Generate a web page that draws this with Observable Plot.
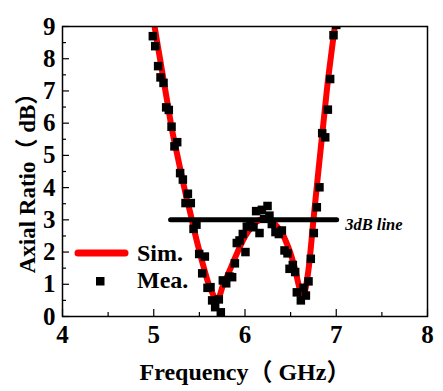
<!DOCTYPE html>
<html>
<head>
<meta charset="utf-8">
<script src="https://cdn.jsdelivr.net/npm/d3@7"></script>
<script src="https://cdn.jsdelivr.net/npm/@observablehq/plot@0.6"></script>
<style>
  html, body { margin: 0; padding: 0; background: #fff; }
  #chart { width: 443px; height: 391px; }
</style>
</head>
<body>
<div id="chart"></div>
<script>
// Simulated axial ratio curve
const freqSim = [4.97,5.00,5.05,5.10,5.15,5.20,5.25,5.30,5.35,5.40,5.45,5.50,5.55,5.60,5.65,5.685,5.72,5.75,5.80,5.85,5.90,5.95,6.00,6.05,6.10,6.15,6.20,6.25,6.30,6.35,6.40,6.45,6.50,6.55,6.60,6.625,6.65,6.70,6.75,6.80,6.85,6.90,6.95,7.00,7.03];
const arSim = [9.65,9.15,8.31,7.47,6.63,5.80,5.12,4.45,3.80,3.22,2.60,2.03,1.50,1.02,0.68,0.48,0.62,0.90,1.22,1.55,1.88,2.20,2.48,2.70,2.88,2.98,3.03,3.03,2.95,2.80,2.62,2.32,1.95,1.45,0.85,0.62,0.72,1.55,3.00,4.40,5.75,7.10,8.25,9.35,10.0];

// Measured axial ratio points
const freqMea = [4.990,5.016,5.048,5.074,5.107,5.136,5.165,5.195,5.227,5.257,5.289,5.319,5.348,5.374,5.406,5.436,5.468,5.498,5.531,5.560,5.589,5.622,5.640,5.673,5.713,5.735,5.757,5.794,5.830,5.859,5.889,5.910,5.940,5.976,6.005,6.020,6.057,6.093,6.122,6.159,6.185,6.210,6.247,6.268,6.294,6.334,6.371,6.404,6.433,6.466,6.488,6.524,6.550,6.568,6.612,6.641,6.667,6.696,6.721,6.754,6.787,6.816,6.846,6.879,6.908,6.933,6.970,7.000];
const arMea = [8.70,8.39,7.77,7.42,7.25,6.49,6.41,5.89,5.28,5.41,4.45,4.25,3.52,3.81,3.52,2.72,2.85,1.94,1.34,1.86,0.89,0.91,0.50,0.29,0.53,0.13,1.12,1.03,1.24,1.22,1.65,2.28,2.36,2.56,2.00,2.79,2.85,2.77,3.27,2.59,3.31,3.03,3.43,3.13,2.87,2.62,2.56,2.67,2.05,1.96,1.48,1.60,1.38,0.75,0.50,0.89,0.65,1.09,1.79,2.59,3.39,4.01,5.69,5.56,6.42,7.37,8.73,9.05];

// 3 dB reference line
const refLevel = [3];
const refRange = [5.19, 7.01];
const refLabel = "3dB line";

// Axes
const xTicks = [4,5,6,7,8];
const xMinor = [4.5,5.5,6.5,7.5];
const yTicks = [0,1,2,3,4,5,6,7,8,9];
const yMinor = [0.5,1.5,2.5,3.5,4.5,5.5,6.5,7.5,8.5];
const xTitle = "Frequency（ GHz）";
const yTitle = "Axial Ratio（ dB）";
const legendLabels = ["Sim.", "Mea."];

const sim = freqSim.map((f, i) => ({f, v: arSim[i]}));
const mea = freqMea.map((f, i) => ({f, v: arMea[i]}));

const W = 443, H = 391;
const mL = 62, mR = 16, mT = 26, mB = 75;
const pw = W - mL - mR, ph = H - mT - mB;
const FONT = "'Times New Roman', 'Liberation Serif', 'Noto Sans CJK SC', serif";

const plot = Plot.plot({
  width: W, height: H,
  marginLeft: mL, marginRight: mR, marginTop: mT, marginBottom: mB,
  style: {fontFamily: FONT, background: "#fff", color: "#000"},
  x: {domain: [4, 8]},
  y: {domain: [0, 9]},
  marks: [
    Plot.line(sim, {x: "f", y: "v", stroke: "#ff0000", strokeWidth: 6, curve: "monotone-x", clip: true}),
    Plot.dot(mea, {x: "f", y: "v", symbol: "square", r: 4.8, fill: "#000", stroke: "none", clip: true}),
    Plot.ruleY(refLevel, {y: d => d, x1: refRange[0], x2: refRange[1], stroke: "#000", strokeWidth: 5, strokeLinecap: "round"}),
    Plot.text(refLevel, {y: d => d, x: refRange[1], text: () => refLabel, textAnchor: "start", dx: 8, dy: 5, fontSize: 16.5, fontStyle: "italic", fontWeight: "bold", fill: "#000"}),
    // inward ticks
    Plot.tickX(xTicks, {x: d => d, insetTop: ph - 7, stroke: "#000", strokeWidth: 1.2}),
    Plot.tickX(xMinor, {x: d => d, insetTop: ph - 4, stroke: "#000", strokeWidth: 1.2}),
    Plot.tickY(yTicks, {y: d => d, insetRight: pw - 7, stroke: "#000", strokeWidth: 1.2}),
    Plot.tickY(yMinor, {y: d => d, insetRight: pw - 4, stroke: "#000", strokeWidth: 1.2}),
    Plot.axisX({ticks: xTicks, tickFormat: d3.format("d"), tickSize: 0, tickPadding: 9, fontSize: 25, fontWeight: "bold", label: null}),
    Plot.axisY({ticks: yTicks, tickFormat: d3.format("d"), tickSize: 0, tickPadding: 7, fontSize: 25, fontWeight: "bold", label: null}),
    Plot.text([xTitle], {frameAnchor: "bottom", textAnchor: "middle", lineAnchor: "middle", dy: 56, fontSize: 24, fontWeight: "bold", fill: "#000"}),
    Plot.text([yTitle], {frameAnchor: "left", textAnchor: "middle", lineAnchor: "middle", dx: -35, dy: 6, rotate: -90, fontSize: 23, fontWeight: "bold", fill: "#000"}),
    Plot.frame({stroke: "#000", strokeWidth: 1.5})
  ]
});

document.getElementById("chart").appendChild(plot);

// legend
const svg = d3.select(plot);
const lg = svg.append("g").attr("font-family", FONT).attr("font-weight", "bold").attr("font-size", 24).attr("text-anchor", "start");
lg.append("line").attr("x1", 78).attr("x2", 125).attr("y1", 253).attr("y2", 253)
  .attr("stroke", "#ff0000").attr("stroke-width", 7).attr("stroke-linecap", "round");
lg.append("text").attr("x", 137).attr("y", 261).text(legendLabels[0]);
lg.append("rect").attr("x", 96).attr("y", 277).attr("width", 8.5).attr("height", 8.5).attr("fill", "#000");
lg.append("text").attr("x", 137).attr("y", 288).text(legendLabels[1]);
</script>
</body>
</html>
